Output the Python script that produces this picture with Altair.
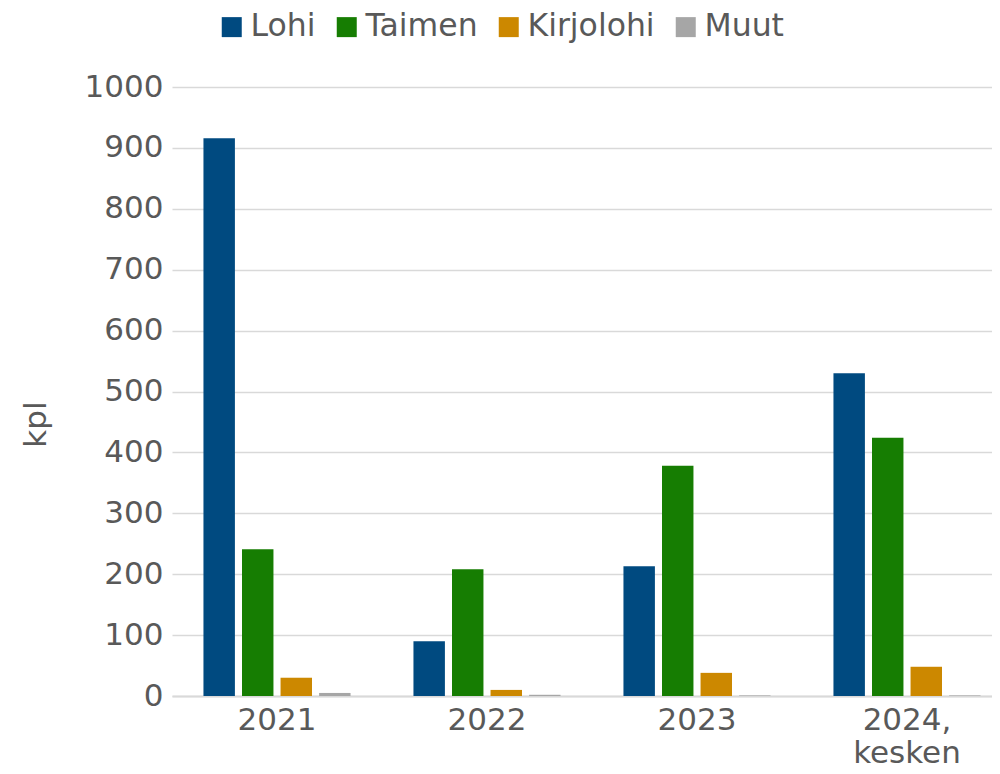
import altair as alt
import pandas as pd

years = ["2021", "2022", "2023", "2024, kesken"]
species = ["Lohi", "Taimen", "Kirjolohi", "Muut"]
colors = ["#004a80", "#167d02", "#cc8800", "#a6a6a6"]

lohi = [916, 90, 213, 530]
taimen = [241, 208, 378, 424]
kirjolohi = [30, 10, 38, 48]
muut = [5, 2, 1, 1]

series = {"Lohi": lohi, "Taimen": taimen, "Kirjolohi": kirjolohi, "Muut": muut}
rows = []
for s in species:
    for y, v in zip(years, series[s]):
        rows.append({"vuosi": y, "laji": s, "kpl": v})
df = pd.DataFrame(rows)

FONT = "DejaVu Sans"
TXT = "#595959"
FS = 31

chart = alt.Chart(df).mark_bar().encode(
    x=alt.X("vuosi:N", sort=years, title=None,
            scale=alt.Scale(paddingInner=0, paddingOuter=0, range=[0, 840]),
            axis=alt.Axis(labelAngle=0, labelFontSize=FS, labelColor=TXT, labelFont=FONT,
                          labelPadding=9, labelLineHeight=33, ticks=False,
                          domainColor="#d9d9d9", domainWidth=2,
                          labelExpr="datum.label == '2024, kesken' ? ['2024,', 'kesken'] : datum.label")),
    xOffset=alt.XOffset("laji:N", sort=species,
                        scale=alt.Scale(paddingInner=0.184, paddingOuter=0.816)),
    y=alt.Y("kpl:Q", title="kpl",
            scale=alt.Scale(domain=[0, 1000], nice=False),
            axis=alt.Axis(values=list(range(0, 1001, 100)), format="d", labelFontSize=FS,
                          labelColor=TXT, labelFont=FONT, labelPadding=9, ticks=False, domain=False,
                          gridColor="#d9d9d9", gridWidth=1.5,
                          titleFontSize=FS, titleColor=TXT, titleFont=FONT, titleFontWeight="normal",
                          titleAngle=-90, titleX=-136, titleY=337, titleAlign="center",
                          titleBaseline="middle")),
    color=alt.Color("laji:N", sort=species, title=None,
                    scale=alt.Scale(domain=species, range=colors),
                    legend=alt.Legend(orient="none", legendX=44, legendY=-76, direction="horizontal",
                                      columns=4, symbolType="square", symbolSize=400,
                                      symbolStrokeWidth=0, labelFontSize=31.5, labelColor=TXT,
                                      labelFont=FONT, labelOffset=3, columnPadding=15)),
).properties(
    width=820, height=609,
    autosize=alt.AutoSizeParams(type="none"),
    padding={"left": 164, "top": 79, "right": 0, "bottom": 70},
).configure_view(stroke=None)

chart.save("out.html", embed_options={"renderer": "svg", "actions": False})
